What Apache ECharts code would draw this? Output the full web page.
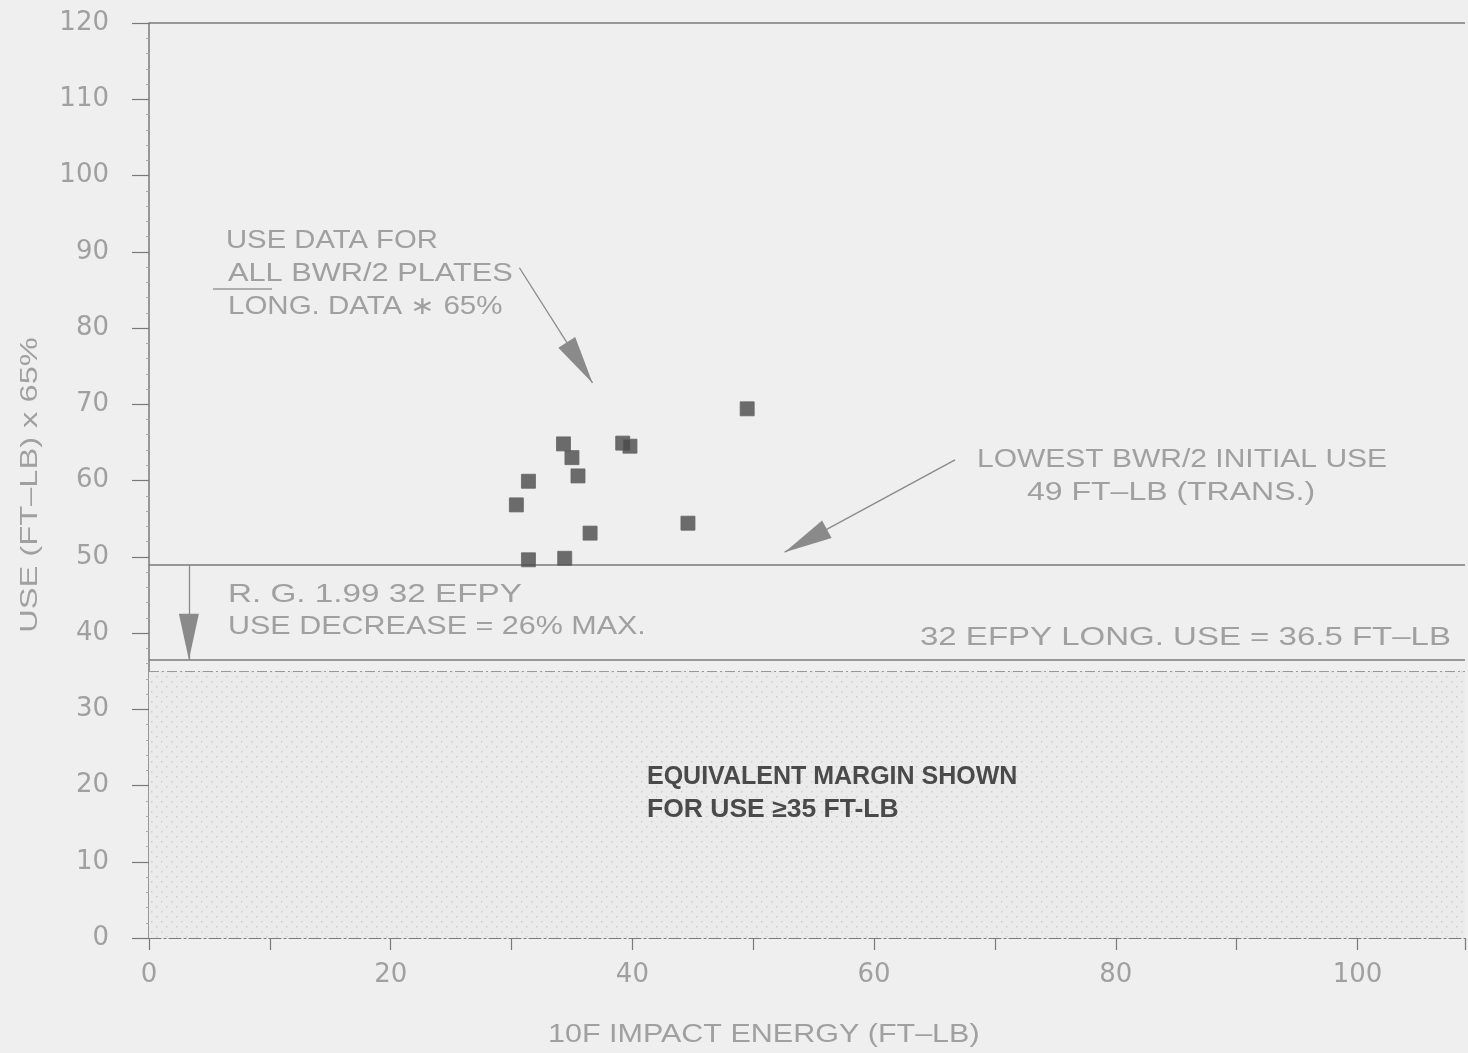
<!DOCTYPE html>
<html><head><meta charset="utf-8">
<script src="https://cdn.jsdelivr.net/npm/echarts@6/dist/echarts.min.js"></script>
<style>html,body{margin:0;padding:0;background:#efefef}#c{width:1468px;height:1053px}</style>
</head><body><div id="c"></div>
<script>
// ---- data ----
const impactEnergy = [49.5, 34.3, 35.0, 39.2, 39.8, 35.5, 31.4, 30.4, 36.5, 44.6, 31.4, 34.4];
const useValues    = [69.4, 64.8, 63.0, 64.9, 64.5, 60.6, 59.9, 56.8, 53.1, 54.4, 49.6, 49.8];
const lowestInitialUse = 49;
const longUse32Efpy = 36.5;
const marginLimit = 35;
const xTickLabels = ['0','20','40','60','80','100'];
const yTickLabels = ['0','10','20','30','40','50','60','70','80','90','100','110','120'];

const X_MAX = 108.9;
const TXT = '#a0a0a0';
const LINE = '#7a7a7a';

// dotted pattern
const pat = document.createElement('canvas');
pat.width = 10; pat.height = 10;
const pc = pat.getContext('2d');
pc.fillStyle = '#ebebeb'; pc.fillRect(0,0,10,10);
pc.fillStyle = '#cdcdcd'; pc.fillRect(1,1,1.5,1.5); pc.fillRect(6,6,1.5,1.5);

const chart = echarts.init(document.getElementById('c'));
const pts = impactEnergy.map((x,i)=>[x,useValues[i]]);

function txt(s, x, y, sx, opts) {
  opts = opts || {};
  return {type: 'text', x: x, y: y, scaleX: sx, rotation: opts.rot || 0, z: 100,
    style: {text: s, fill: opts.fill || TXT, font: (opts.weight || 'normal') + ' ' + (opts.size || 25) + 'px "Liberation Sans"',
      align: opts.align || 'left', verticalAlign: 'middle'}};
}

chart.setOption({
  backgroundColor: '#efefef',
  animation: false,
  grid: {left: 149, right: 0, top: 23, bottom: 115},
  xAxis: {
    type: 'value', min: 0, max: X_MAX, interval: 10,
    axisLine: {show: true, lineStyle: {color: LINE, width: 1.2, type: [12,3,2,3]}},
    axisTick: {show: true, length: 12, lineStyle: {color: LINE, width: 1.2}},
    axisLabel: {margin: 24, color: TXT, fontFamily: 'DejaVu Sans', fontSize: 26,
      formatter: v => xTickLabels.includes(String(v)) ? String(v) : ''},
    splitLine: {show: false}
  },
  yAxis: {
    type: 'value', min: 0, max: 120, interval: 10,
    axisLine: {show: true, lineStyle: {color: LINE, width: 1.5}},
    axisTick: {show: true, length: 17, lineStyle: {color: LINE, width: 1.2}},
    minorTick: {show: true, splitNumber: 5, length: 3, lineStyle: {color: '#aaa'}},
    axisLabel: {margin: 40, color: TXT, fontFamily: 'DejaVu Sans', fontSize: 26,
      formatter: v => yTickLabels.includes(String(v)) ? String(v) : ''},
    splitLine: {show: false}
  },
  series: [{
    type: 'scatter',
    data: pts,
    symbol: 'rect', symbolSize: 14,
    itemStyle: {color: '#4a4a4a', borderColor: '#666', borderWidth: 1},
    z: 5,
    markArea: {
      silent: true,
      itemStyle: {color: {image: pat, repeat: 'repeat'}},
      data: [[{coord: [0, 0]}, {coord: [X_MAX, marginLimit]}]]
    },
    markLine: {
      silent: true, symbol: 'none',
      label: {show: false},
      data: [
        [{coord: [0, 120], lineStyle: {color: LINE, width: 1.5, type: 'solid'}}, {coord: [X_MAX, 120]}],
        [{coord: [0, lowestInitialUse], lineStyle: {color: LINE, width: 1.5, type: 'solid'}}, {coord: [X_MAX, lowestInitialUse]}],
        [{coord: [0, longUse32Efpy], lineStyle: {color: LINE, width: 1.5, type: 'solid'}}, {coord: [X_MAX, longUse32Efpy]}],
        [{coord: [0, marginLimit], lineStyle: {color: '#999', width: 1.2, type: [10,3,2,3]}}, {coord: [X_MAX, marginLimit]}]
      ]
    }
  }, {
    type: 'scatter', data: [],
    markLine: {
      silent: true,
      symbol: ['none', 'triangle'],
      label: {show: false},
      lineStyle: {color: '#8a8a8a', width: 1.3, type: 'solid'},
      data: [
        [{coord: [3.3, lowestInitialUse]}, {coord: [3.3, longUse32Efpy], symbolSize: [20, 46], symbolOffset: [0, 23], itemStyle: {color: '#444'}}],
        [{coord: [30.65, 87.9]}, {coord: [36.7, 72.8], symbolSize: [20, 48], symbolOffset: [0, 24], itemStyle: {color: '#444'}}],
        [{coord: [66.7, 62.7]}, {coord: [52.6, 50.6], symbolSize: [20, 48], symbolOffset: [0, 24], itemStyle: {color: '#444'}}]
      ]
    }
  }],
  graphic: [
    txt('USE (FT\u2013LB) x 65%', 30, 485, 1.36, {rot: Math.PI/2, align: 'center', size: 24}),
    txt('10F IMPACT ENERGY (FT\u2013LB)', 548, 1035, 1.22),
    txt('USE DATA FOR', 226, 241, 1.17),
    txt('ALL BWR/2 PLATES', 228, 274, 1.23),
    {type: 'line', z: 100, shape: {x1: 213, y1: 289, x2: 272, y2: 289}, style: {stroke: '#999', lineWidth: 1.5}},
    txt('LONG. DATA \u2217 65%', 228, 307, 1.18),
    txt('LOWEST BWR/2 INITIAL USE', 977, 460, 1.2),
    txt('49 FT\u2013LB (TRANS.)', 1027, 493, 1.28),
    txt('R. G. 1.99 32 EFPY', 228, 595, 1.33),
    txt('USE DECREASE = 26% MAX.', 228, 627, 1.22),
    txt('32 EFPY LONG. USE = 36.5 FT\u2013LB', 920, 638, 1.32),
    txt('EQUIVALENT MARGIN SHOWN', 647, 777, 1.0, {fill: '#4a4a4a', size: 25, weight: 'bold'}),
    txt('FOR USE \u226535 FT-LB', 647, 810, 1.06, {fill: '#4a4a4a', size: 25, weight: 'bold'})
  ]
});
</script></body></html>
